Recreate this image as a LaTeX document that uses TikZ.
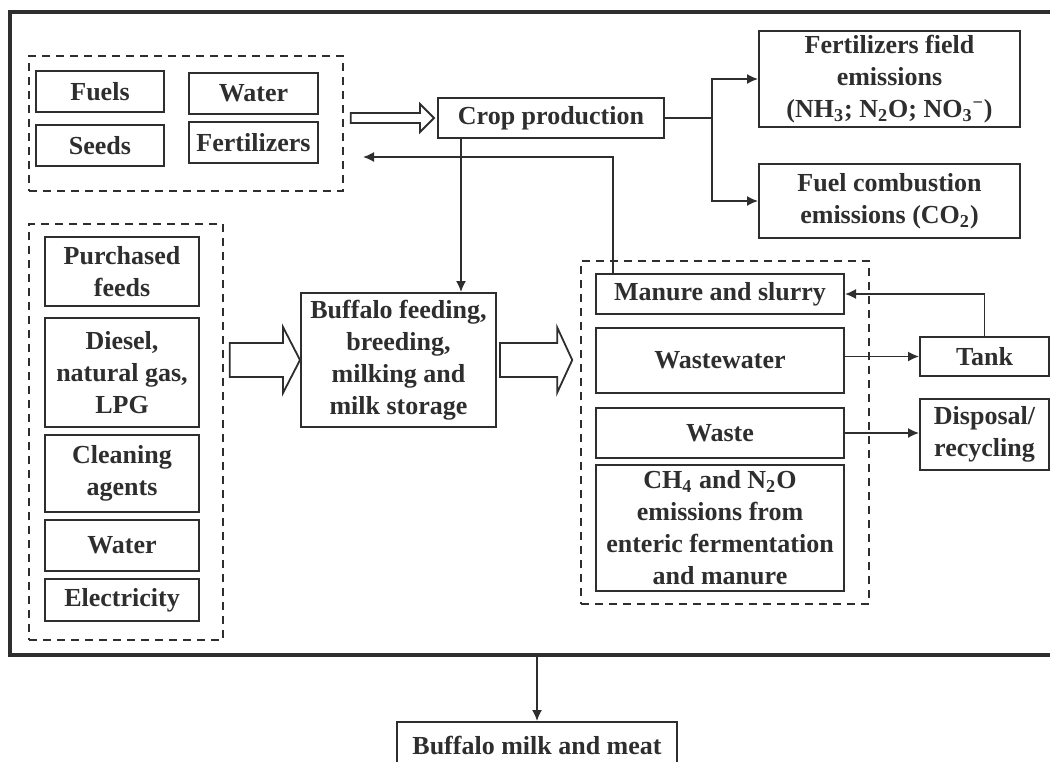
\documentclass[tikz,border=0pt]{standalone}
\usepackage{fontspec}
\setmainfont{Liberation Serif}
\usetikzlibrary{arrows.meta,calc}

\definecolor{ink}{HTML}{2E2E2E}

\tikzset{
  box/.style={draw=ink, line width=1pt, text=ink, align=center, inner sep=1pt,
    font=\fontsize{13}{16}\selectfont\bfseries},
  group/.style={draw=ink, line width=0.75pt, dash pattern=on 4pt off 3pt},
  line/.style={draw=ink, line width=0.8pt, -{Latex[length=5.5pt,width=5pt]}},
  fat/.style={draw=ink, line width=0.9pt, fill=white, line join=miter}
}

% hollow block arrow: tail, tip, half shaft, half head, head length
\newcommand{\fatarrow}[5]{%
  \draw[fat] let \p1=#1, \p2=#2 in
    (\x1,\y2+#3) -- (\x2-#5,\y2+#3) -- (\x2-#5,\y2+#4) -- (\p2)
    -- (\x2-#5,\y2-#4) -- (\x2-#5,\y2-#3) -- (\x1,\y2-#3) -- cycle;}

\begin{document}
\begin{tikzpicture}[x=0.5pt, y=-0.5pt]
\clip (0,0) rectangle (1050,761);

% farm boundary
\draw[draw=ink, line width=2pt] (10,12) rectangle (1080,655);

% crop inputs
\node[group, minimum width=157pt, minimum height=67.5pt] (topgroup) at (186,123.5) {};
\node[box, minimum width=64pt, minimum height=20.5pt] (fuels) at (100,91.5) {Fuels};
\node[box, minimum width=64.5pt, minimum height=20.5pt] (watercrop) at (253.5,93.5) {Water};
\node[box, minimum width=64pt, minimum height=20.5pt] (seeds) at (100,145.5) {Seeds};
\node[box, minimum width=64.5pt, minimum height=20.5pt] (fertilizers) at (253.5,142.5) {Fertilizers};

% crop production and its emissions
\node[box, minimum width=113pt, minimum height=20pt] (crop) at (551,118) {Crop production};
\node[box, minimum width=130.5pt, minimum height=48pt, inner sep=0pt] (fertemis) at (889.5,79)
  {Fertilizers field\\emissions\\(NH\textsubscript{3}; N\textsubscript{2}O; NO\textsubscript{3}\textsuperscript{−})};
\node[box, minimum width=130.5pt, minimum height=37pt] (fuelemis) at (889.5,201)
  {Fuel combustion\\emissions (CO\textsubscript{2})};

% farm inputs
\node[group, minimum width=97pt, minimum height=208pt] (feedgroup) at (126,432) {};
\node[box, minimum width=77pt, minimum height=34.5pt] (feeds) at (122,271.5) {Purchased\\feeds};
\node[box, minimum width=77pt, minimum height=54.5pt] (diesel) at (122,372.5) {Diesel,\\natural gas,\\LPG};
\node[box, minimum width=77pt, minimum height=38.5pt] (cleaning) at (122,473.5) {Cleaning\\agents};
\node[box, minimum width=77pt, minimum height=25.5pt] (waterfarm) at (122,545.5) {Water};
\node[box, minimum width=77pt, minimum height=21pt] (electricity) at (122,600) {Electricity};

% buffalo
\node[box, minimum width=97.5pt, minimum height=67pt] (buffalo) at (398.5,360)
  {Buffalo feeding,\\breeding,\\milking and\\milk storage};

% farm outputs
\node[group, minimum width=144pt, minimum height=171.5pt] (outgroup) at (725,432.5) {};
\node[box, minimum width=124pt, minimum height=20pt] (manure) at (720,294) {Manure and slurry};
\node[box, minimum width=124pt, minimum height=32.5pt] (wastewater) at (720,360.5) {Wastewater};
\node[box, minimum width=124pt, minimum height=25pt] (waste) at (720,433) {Waste};
\node[box, minimum width=124pt, minimum height=63pt] (ch4) at (720,528)
  {CH\textsubscript{4} and N\textsubscript{2}O\\emissions from\\enteric fermentation\\and manure};
\node[box, minimum width=64.5pt, minimum height=19.5pt] (tank) at (984.5,356.5) {Tank};
\node[box, minimum width=64.5pt, minimum height=35.5pt] (disposal) at (984.5,434.5) {Disposal/\\recycling};

% product
\node[box, minimum width=140pt, minimum height=23pt] (product) at (537,745) {Buffalo milk and meat};

% block arrows
\fatarrow{([xshift=3.5pt]topgroup.east)}{([xshift=-1.5pt]crop.west)}{2.5pt}{7pt}{7pt}
\fatarrow{([xshift=3pt]feedgroup.east)}{(buffalo.west)}{8.5pt}{16.5pt}{8.5pt}
\fatarrow{([xshift=1.5pt]buffalo.east)}{($(outgroup.west |- buffalo.east)+(-4pt,0)$)}{8.5pt}{16.25pt}{7.5pt}

% connectors
\coordinate (split) at (712,118);
\coordinate (feedback) at (363,157);
\coordinate (out) at (537,655);
\draw[draw=ink, line width=0.8pt] (crop.east) -- (split);
\draw[line] (split) |- (fertemis.west);
\draw[line] (split) |- (fuelemis.west);
\draw[line] ([xshift=12pt]crop.south west) -- ([xshift=12pt]crop.south west |- buffalo.north);
\draw[line] ([xshift=9pt]manure.north west) |- (feedback);
\draw[line] (wastewater.east |- tank.west) -- (tank.west);
\draw[line] (waste.east) -- (waste.east -| disposal.west);
\draw[line] (tank.north) |- (manure.east);
\draw[line] (out) -- (product.north);
\end{tikzpicture}
\end{document}
